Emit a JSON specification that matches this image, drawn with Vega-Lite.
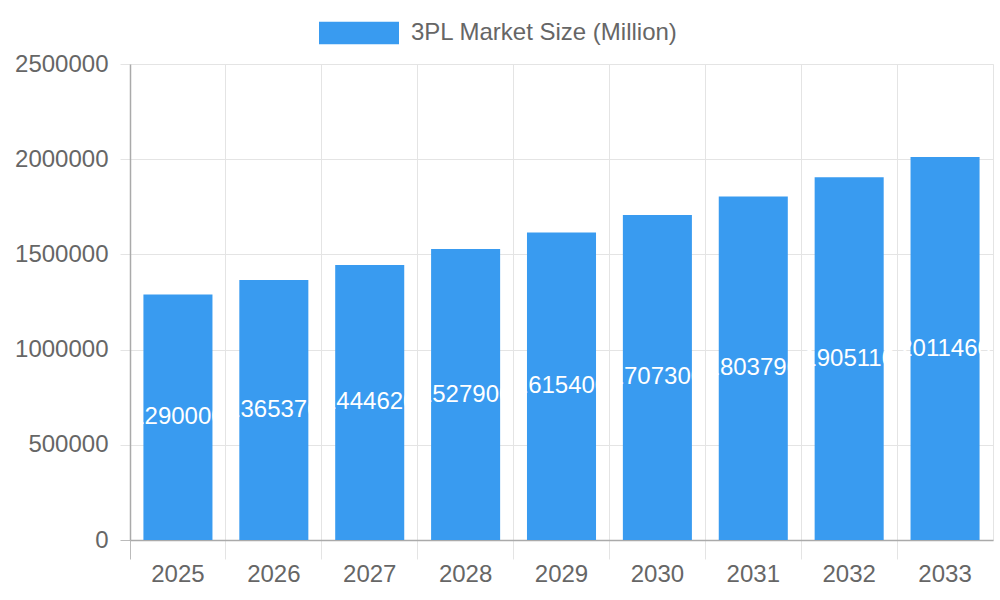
{
  "$schema": "https://vega.github.io/schema/vega-lite/v6.json",
  "width": 863,
  "height": 476,
  "autosize": {"type": "none"},
  "padding": {"left": 130, "top": 64, "right": 7, "bottom": 60},
  "background": "white",
  "config": {
    "font": "Liberation Sans",
    "view": {"stroke": "#e4e4e4"}
  },
  "data": {
    "values": [
      {"year": "2025", "value": 1290000, "series": "3PL Market Size (Million)"},
      {"year": "2026", "value": 1365370, "series": "3PL Market Size (Million)"},
      {"year": "2027", "value": 1444620, "series": "3PL Market Size (Million)"},
      {"year": "2028", "value": 1527900, "series": "3PL Market Size (Million)"},
      {"year": "2029", "value": 1615400, "series": "3PL Market Size (Million)"},
      {"year": "2030", "value": 1707300, "series": "3PL Market Size (Million)"},
      {"year": "2031", "value": 1803790, "series": "3PL Market Size (Million)"},
      {"year": "2032", "value": 1905110, "series": "3PL Market Size (Million)"},
      {"year": "2033", "value": 2011460, "series": "3PL Market Size (Million)"}
    ]
  },
  "encoding": {
    "x": {
      "field": "year",
      "type": "nominal",
      "scale": {"paddingInner": 0.28, "paddingOuter": 0.14},
      "axis": {
        "title": null,
        "labelAngle": 0,
        "labelFontSize": 24,
        "labelColor": "#666666",
        "labelPadding": 3,
        "bandPosition": -0.1944,
        "grid": true,
        "gridColor": "#e4e4e4",
        "tickColor": {"condition": {"test": "datum.value === '2025'", "value": "#bbbbbb"}, "value": "#e4e4e4"},
        "tickSize": 19,
        "domainColor": "#aaaaaa",
        "domainWidth": 1.5
      }
    }
  },
  "layer": [
    {
      "mark": {"type": "bar", "color": "#399bf0"},
      "encoding": {
        "y": {
          "field": "value",
          "type": "quantitative",
          "scale": {"domain": [0, 2500000], "nice": false},
          "axis": {
            "title": null,
            "values": [0, 500000, 1000000, 1500000, 2000000, 2500000],
            "format": "d",
            "labelFontSize": 24,
            "labelColor": "#666666",
            "labelPadding": 12,
            "gridColor": "#e4e4e4",
            "tickColor": {"condition": {"test": "datum.value === 0", "value": "#bbbbbb"}, "value": "#e4e4e4"},
            "tickSize": 10,
            "domainColor": "#aaaaaa",
            "domainWidth": 1.5
          }
        },
        "color": {
          "field": "series",
          "type": "nominal",
          "scale": {"range": ["#399bf0"]},
          "legend": {
            "title": null,
            "orient": "none",
            "legendX": 189,
            "legendY": -71,
            "symbolType": "M-1,-0.28L1,-0.28L1,0.28L-1,0.28Z",
            "symbolSize": 6400,
            "symbolStrokeWidth": 0,
            "symbolOpacity": 1,
            "labelFontSize": 24,
            "labelLimit": 600,
            "labelColor": "#666666",
            "labelOffset": 12
          }
        }
      }
    },
    {
      "mark": {"type": "text", "color": "white", "fontSize": 24, "baseline": "middle", "align": "center"},
      "encoding": {
        "y": {
          "field": "value",
          "type": "quantitative",
          "scale": {"domain": [0, 5000000], "nice": false},
          "axis": null
        },
        "text": {"field": "value", "type": "quantitative", "format": "d"}
      }
    }
  ],
  "resolve": {"scale": {"y": "independent"}}
}
